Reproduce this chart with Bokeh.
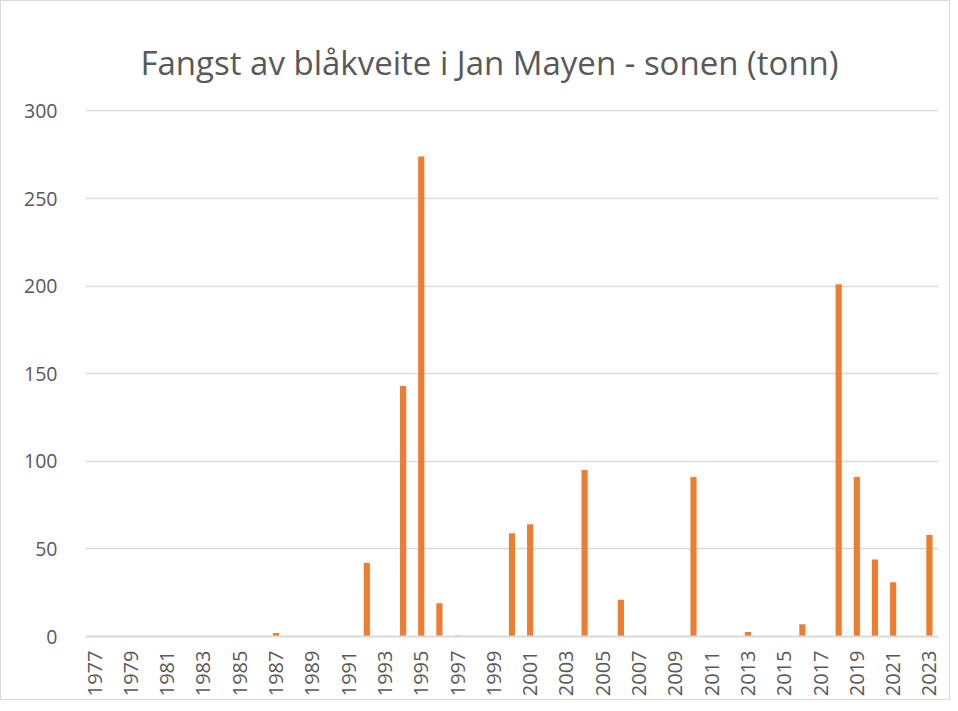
import math
from bokeh.plotting import figure
from bokeh.models import ColumnDataSource, Range1d, FixedTicker, Title
from bokeh.embed import file_html
from bokeh.resources import INLINE

years = list(range(1977, 2024))
catch_tonn = [0, 0, 0, 0, 0, 0, 0, 0, 0, 0,
              2, 0, 0, 0, 0, 42, 0, 143, 274, 19,
              0.5, 0, 0, 59, 64, 0, 0, 95, 0, 21,
              0, 0, 0, 91, 0, 0, 2.5, 0, 0, 7,
              0, 201, 91, 44, 31, 0, 58]
tick_years = [y for y in years if (y - 1977) % 2 == 0]
y_ticks = [0, 50, 100, 150, 200, 250, 300]
title_text = "Fangst av blåkveite i Jan Mayen - sonen (tonn)"

src = ColumnDataSource(dict(year=years, val=catch_tonn))

p = figure(width=950, height=700, output_backend="svg", toolbar_location=None,
           x_range=Range1d(years[0] - 0.5, years[-1] + 0.5), y_range=Range1d(0, 300.8),
           min_border_left=84, min_border_right=13, min_border_top=108, min_border_bottom=65)
p.styles = {"border": "1px solid #d9d9d9"}
p.outline_line_color = None
p.background_fill_color = "white"
p.border_fill_color = "white"

p.vbar(x="year", top="val", width=0.34, source=src, fill_color="#ED7D31", line_color=None)

font = "Open Sans"
lab_color = "#595959"

xa = p.xaxis[0]
xa.ticker = FixedTicker(ticks=tick_years)
xa.major_label_orientation = math.pi / 2
xa.major_label_text_font = font
xa.major_label_text_font_size = "20px"
xa.major_label_text_color = lab_color
xa.axis_line_color = "#d9d9d9"
xa.axis_line_width = 2
xa.major_tick_line_color = None
xa.minor_tick_line_color = None
xa.major_label_standoff = 8

ya = p.yaxis[0]
ya.ticker = FixedTicker(ticks=y_ticks)
ya.major_label_text_font = font
ya.major_label_text_font_size = "19.5px"
ya.major_label_text_color = lab_color
ya.axis_line_color = None
ya.major_tick_line_color = None
ya.minor_tick_line_color = None
ya.major_label_standoff = 22

p.xgrid.grid_line_color = None
p.ygrid.ticker = FixedTicker(ticks=y_ticks)
p.ygrid.grid_line_color = "#d9d9d9"
p.ygrid.grid_line_width = 1.5

p.add_layout(Title(text=title_text, align="left", offset=55, standoff=50,
                   text_font=font, text_font_size="33px", text_font_style="normal",
                   text_color=lab_color), "above")

open("out.html", "w").write(file_html(p, INLINE))
